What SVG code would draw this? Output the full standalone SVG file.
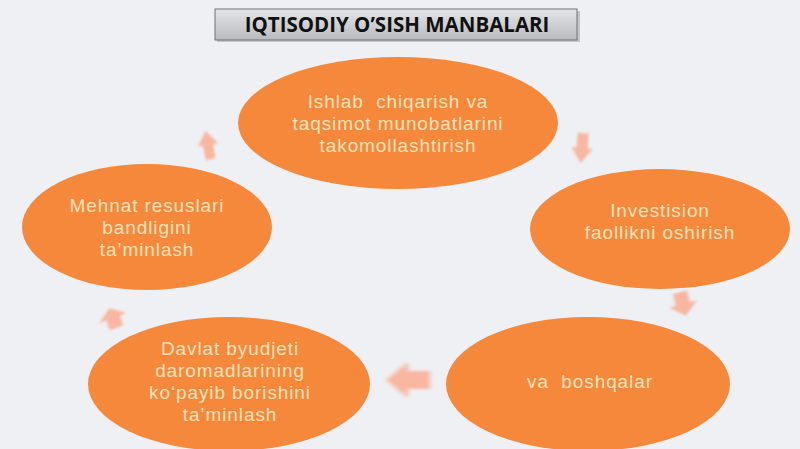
<svg xmlns="http://www.w3.org/2000/svg" width="800" height="449" viewBox="0 0 800 449">
<defs>
<linearGradient id="tg" x1="0" y1="0" x2="0" y2="1">
<stop offset="0" stop-color="#e4e4e6"/>
<stop offset="0.5" stop-color="#cfd0d3"/>
<stop offset="1" stop-color="#b9babe"/>
</linearGradient>
<path id="arr" d="M-11,-6 H0 V-12 L11,0 L0,12 V6 H-11 Z"/>
<filter id="blur" x="-50%" y="-50%" width="200%" height="200%"><feGaussianBlur stdDeviation="1.2"/></filter>
</defs>
<style>
.node{fill:#f5883a;}
.lbl{font-family:"Liberation Sans",Arial,sans-serif;font-size:19px;letter-spacing:0.9px;fill:#fce2bc;text-anchor:middle;white-space:pre;}
.title{font-family:"Open Sans","Noto Sans","Liberation Sans",sans-serif;font-size:20.5px;font-weight:bold;fill:#111;text-anchor:middle;}
.ar{fill:#f9b6a0;filter:url(#blur);}
</style>
<rect width="800" height="449" fill="#eef0f4"/>
<g id="title">
<rect x="217" y="11" width="363" height="31" fill="#9a9a9e" opacity="0.5"/>
<rect x="215" y="9" width="362" height="31" fill="url(#tg)" stroke="#6f7075" stroke-width="1"/>
<text class="title" x="397" y="32">IQTISODIY O’SISH MANBALARI</text>
</g>
<g id="connectors">
<use href="#arr" class="ar" transform="translate(208,145) rotate(-100) scale(1.3,0.85)"/>
<use href="#arr" class="ar" transform="translate(582,148) rotate(95) scale(1.35,0.9)"/>
<use href="#arr" class="ar" transform="translate(683,304) rotate(75) scale(1.1,1.2)"/>
<use href="#arr" class="ar" transform="translate(408,380) rotate(180) scale(2,1.5)"/>
<use href="#arr" class="ar" transform="translate(113,318) rotate(-110) scale(0.95,1.2)"/>
</g>
<g id="n1">
<ellipse class="node" cx="398" cy="123" rx="160" ry="66"/>
<text class="lbl" x="398" y="108">Ishlab  chiqarish va</text>
<text class="lbl" x="398" y="130">taqsimot munobatlarini</text>
<text class="lbl" x="398" y="152">takomollashtirish</text>
</g>
<g id="n2">
<ellipse class="node" cx="660" cy="229" rx="130" ry="60"/>
<text class="lbl" x="660" y="217">Investision</text>
<text class="lbl" x="660" y="239">faollikni oshirish</text>
</g>
<g id="n3">
<ellipse class="node" cx="588" cy="384" rx="142" ry="67"/>
<text class="lbl" x="590" y="388">va  boshqalar</text>
</g>
<g id="n4">
<ellipse class="node" cx="229" cy="384" rx="141" ry="67"/>
<text class="lbl" x="230" y="355">Davlat byudjeti</text>
<text class="lbl" x="230" y="377">daromadlarining</text>
<text class="lbl" x="230" y="399">ko‘payib borishini</text>
<text class="lbl" x="230" y="421">ta’minlash</text>
</g>
<g id="n5">
<ellipse class="node" cx="147" cy="227" rx="125" ry="63"/>
<text class="lbl" x="147" y="212">Mehnat resuslari</text>
<text class="lbl" x="147" y="234">bandligini</text>
<text class="lbl" x="147" y="256">ta’minlash</text>
</g>
</svg>
